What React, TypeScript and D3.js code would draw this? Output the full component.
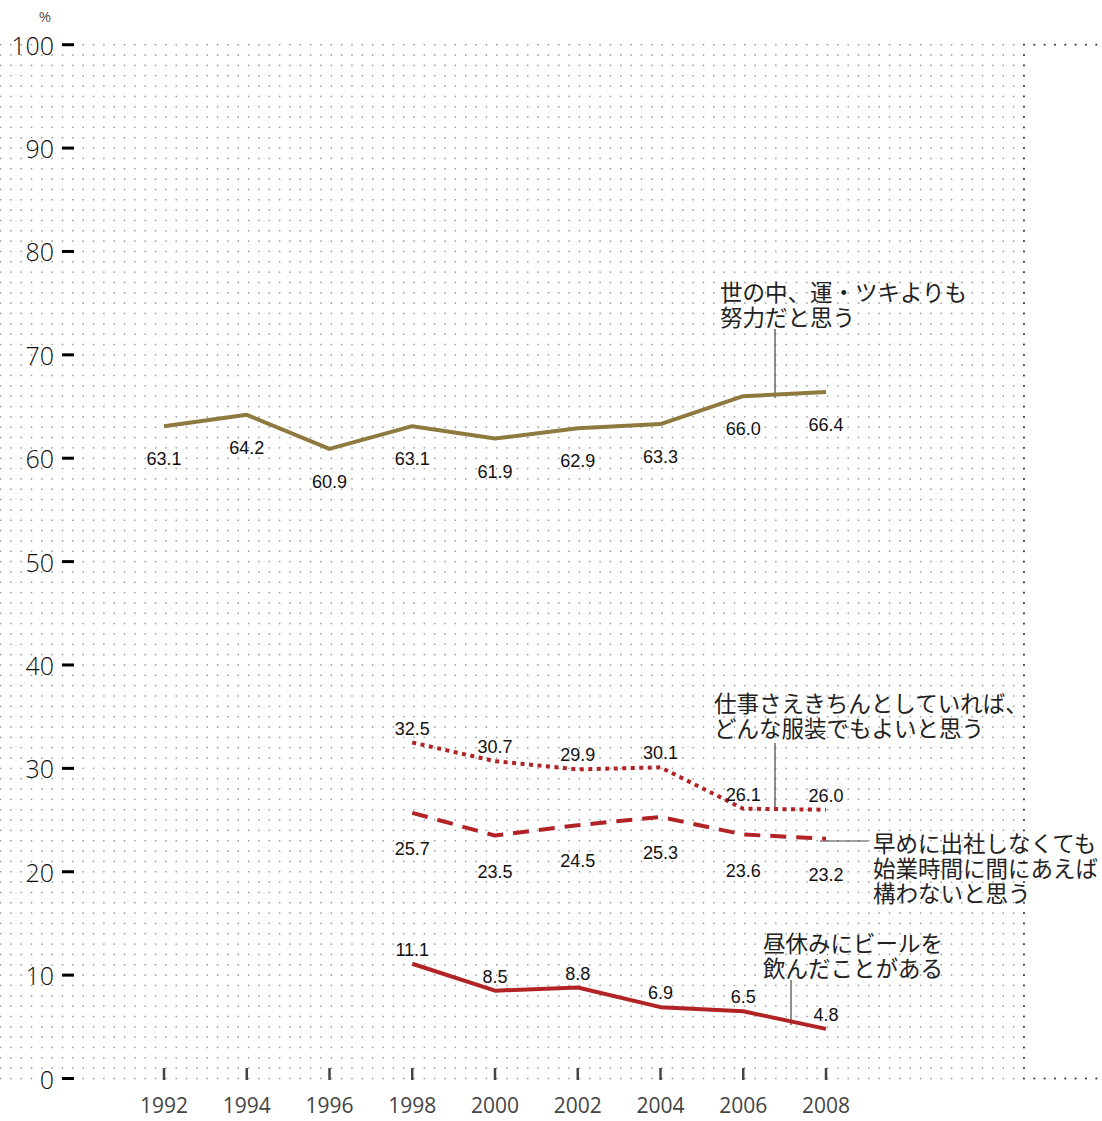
import React from "react";
import * as d3 from "d3";

const years = [1992, 1994, 1996, 1998, 2000, 2002, 2004, 2006, 2008];
const yTicks = [0, 10, 20, 30, 40, 50, 60, 70, 80, 90, 100];

const effortYears = [1992, 1994, 1996, 1998, 2000, 2002, 2004, 2006, 2008];
const effortValues = [63.1, 64.2, 60.9, 63.1, 61.9, 62.9, 63.3, 66.0, 66.4];

const laterYears = [1998, 2000, 2002, 2004, 2006, 2008];
const clothesValues = [32.5, 30.7, 29.9, 30.1, 26.1, 26.0];
const earlyValues = [25.7, 23.5, 24.5, 25.3, 23.6, 23.2];
const beerValues = [11.1, 8.5, 8.8, 6.9, 6.5, 4.8];

const effortLabel = ["世の中、運・ツキよりも", "努力だと思う"];
const clothesLabel = ["仕事さえきちんとしていれば、", "どんな服装でもよいと思う"];
const earlyLabel = ["早めに出社しなくても", "始業時間に間にあえば", "構わないと思う"];
const beerLabel = ["昼休みにビールを", "飲んだことがある"];

const W = 1102;
const H = 1121;
const GOLD = "#8e7a3e";
const RED = "#b22325";
const JP = "'Noto Sans CJK JP', 'Noto Sans', sans-serif";
const NUM = "'Open Sans', 'Noto Sans', sans-serif";
const LAB = "'Liberation Sans', Arial, sans-serif";

export default function App() {
  const x = d3.scaleLinear().domain([1992, 2008]).range([164, 826]);
  const y = d3.scaleLinear().domain([0, 100]).range([1078.5, 44.7]);
  const line = d3
    .line<[number, number]>()
    .x((d) => x(d[0]))
    .y((d) => y(d[1]));

  const step = (y(0) - y(100)) / 100;
  const cols = d3.range(0, 99).map((i) => 0.5 + i * step);
  const rows = d3.range(0, 101).map((k) => y(100) + k * step);
  const edgeX = 0.5 + 99 * step;

  const series = [
    { vals: effortValues, yrs: effortYears, color: GOLD, dash: null, off: 33 },
    { vals: clothesValues, yrs: laterYears, color: RED, dash: "4,4.5", off: -14 },
    { vals: earlyValues, yrs: laterYears, color: RED, dash: "16,10", off: 36 },
    { vals: beerValues, yrs: laterYears, color: RED, dash: null, off: -14 },
  ];

  const annot = (lines: string[], lx: number, ly: number, key: string) =>
    lines.map((t, i) => (
      <text
        key={key + i}
        x={lx}
        y={ly + i * 25}
        fontFamily={JP}
        fontSize={22.5}
        fill="#222"
        dominantBaseline="central"
      >
        {t}
      </text>
    ));

  return (
    <svg
      width={W}
      height={H}
      style={{ position: "absolute", left: 0, top: 0, background: "#fff" }}
    >
      {/* dot grid */}
      <g fill="#999">
        {rows.map((ry, k) =>
          cols.map((cx, i) => (
            <rect key={k + "-" + i} x={cx - 0.75} y={ry - 0.75} width={1.5} height={1.5} />
          ))
        )}
      </g>
      <g fill="#333">
        {rows.map((ry, k) => (
          <rect key={"e" + k} x={edgeX - 0.9} y={ry - 0.9} width={1.8} height={1.8} />
        ))}
        {d3.range(1, 8).map((i) => (
          <rect key={"t" + i} x={edgeX + i * step - 0.9} y={rows[0] - 0.9} width={1.8} height={1.8} />
        ))}
        {d3.range(1, 8).map((i) => (
          <rect
            key={"b" + i}
            x={edgeX + i * step - 0.9}
            y={rows[rows.length - 1] - 0.9}
            width={1.8}
            height={1.8}
          />
        ))}
      </g>

      {/* y axis */}
      <text x={45} y={16} fontFamily={NUM} fontSize={15} fill="#555" textAnchor="middle" dominantBaseline="central">
        %
      </text>
      {yTicks.map((t) => (
        <g key={"y" + t}>
          <line x1={62} x2={74} y1={y(t)} y2={y(t)} stroke="#000" strokeWidth={3} />
          <text
            x={54}
            y={y(t)}
            textAnchor="end"
            dominantBaseline="central"
            fontFamily={NUM}
            fontWeight={300}
            fontSize={25}
            fill="#111"
          >
            {t}
          </text>
        </g>
      ))}

      {/* x axis */}
      {years.map((yr) => (
        <g key={"x" + yr}>
          <line x1={x(yr)} x2={x(yr)} y1={1068} y2={1080} stroke="#444" strokeWidth={2.5} />
          <text
            x={x(yr)}
            y={1105}
            textAnchor="middle"
            dominantBaseline="central"
            fontFamily={NUM}
            fontSize={21}
            fill="#444"
          >
            {yr}
          </text>
        </g>
      ))}

      {/* leader lines */}
      <g stroke="#444" strokeWidth={1.2}>
        <line x1={775} x2={775} y1={329} y2={398} />
        <line x1={775} x2={775} y1={743} y2={810} />
        <line x1={820} x2={868} y1={841} y2={841} />
        <line x1={791} x2={791} y1={980} y2={1025} />
      </g>

      {/* series */}
      {series.map((s, si) => {
        const pts = s.yrs.map((yr, i) => [yr, s.vals[i]] as [number, number]);
        return (
          <g key={"s" + si}>
            <path
              d={line(pts) || ""}
              fill="none"
              stroke={s.color}
              strokeWidth={4}
              strokeDasharray={s.dash || undefined}
              strokeLinejoin="round"
            />
            {pts.map((p, i) => (
              <text
                key={"l" + i}
                x={x(p[0])}
                y={y(p[1]) + s.off}
                textAnchor="middle"
                dominantBaseline="central"
                fontFamily={LAB}
                fontSize={18}
                fill="#111"
              >
                {p[1].toFixed(1)}
              </text>
            ))}
          </g>
        );
      })}

      {/* annotations */}
      {annot(effortLabel, 720, 291, "a")}
      {annot(clothesLabel, 714, 702, "b")}
      {annot(earlyLabel, 873, 842, "c")}
      {annot(beerLabel, 763, 942, "d")}
    </svg>
  );
}
